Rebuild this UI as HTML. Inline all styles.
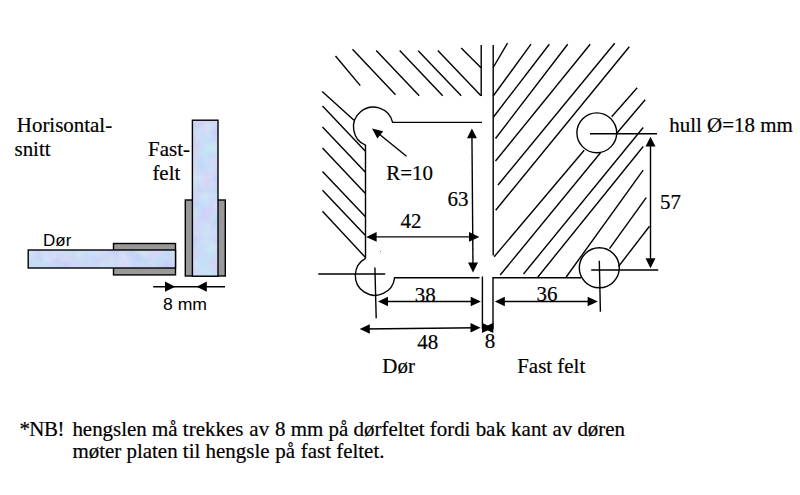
<!DOCTYPE html>
<html lang="no">
<head>
<meta charset="utf-8">
<title>Horisontalsnitt</title>
<style>
html,body{margin:0;padding:0;background:#fff;}
body{width:800px;height:495px;overflow:hidden;position:relative;}
svg{position:absolute;left:0;top:0;display:block;}
.s{font-family:"Liberation Serif",serif;font-size:20.95px;fill:#000;stroke:#000;stroke-width:0.2px;}
.a{font-family:"Liberation Sans",sans-serif;fill:#000;}
.ln line,.ln path,.ln circle{stroke:#000;stroke-width:1.4;fill:none;stroke-linecap:butt;}
.ar polygon{fill:#000;stroke:none;}
</style>
</head>
<body>
<svg width="800" height="495" viewBox="0 0 800 495">
<defs>
<filter id="tx" x="0" y="0" width="100%" height="100%" color-interpolation-filters="sRGB">
<feTurbulence type="fractalNoise" baseFrequency="0.07" numOctaves="2" seed="7" result="n"/>
<feColorMatrix in="n" type="matrix" values="0.17 0 0 0 0.715  0 0.15 0 0 0.78  0 0 0.05 0 0.94  0 0 0 0 1"/>
<feComposite in2="SourceGraphic" operator="in"/>
</filter>
</defs>
<rect width="800" height="495" fill="#ffffff"/>

<!-- left: horisontalsnitt -->
<g id="left">
<rect x="185.3" y="200" width="40" height="76" fill="#999999" stroke="#000" stroke-width="1.4"/>
<rect x="192.4" y="120.2" width="25.6" height="156" fill="#cfdaf7" filter="url(#tx)"/>
<rect x="192.4" y="120.2" width="25.6" height="156" fill="none" stroke="#000" stroke-width="1.4"/>
<rect x="113.5" y="243.5" width="62" height="31.4" fill="#999999" stroke="#000" stroke-width="1.4"/>
<rect x="28.2" y="250" width="147.3" height="18" fill="#cfdaf7" filter="url(#tx)"/>
<rect x="28.2" y="250" width="147.3" height="18" fill="none" stroke="#000" stroke-width="1.4"/>
<line x1="153.2" y1="286.7" x2="225" y2="286.7" stroke="#000" stroke-width="1.4"/>
<polygon points="175.2,286.7 165,281.6 165,291.8" fill="#000"/>
<polygon points="196.6,286.7 206.8,281.6 206.8,291.8" fill="#000"/>
</g>

<!-- right: hengsle -->
<g class="ln" id="hatchL">
<line x1="322.2" y1="91.5" x2="354" y2="120.2"/>
<line x1="335.5" y1="56" x2="360.3" y2="85.6"/>
<line x1="352.5" y1="49.2" x2="395.5" y2="94.8"/>
<line x1="376.2" y1="50.5" x2="419.2" y2="95.7"/>
<line x1="399.7" y1="50.5" x2="442.7" y2="95.7"/>
<line x1="418.2" y1="50.7" x2="461.2" y2="95.7"/>
<line x1="437.8" y1="50.5" x2="481" y2="95.7"/>
<line x1="461.2" y1="48" x2="481" y2="67.8"/>
<line x1="322.5" y1="106" x2="365.2" y2="151"/>
<line x1="322.5" y1="127" x2="365.2" y2="172"/>
<line x1="322.5" y1="148" x2="365.2" y2="193.2"/>
<line x1="322.5" y1="171.5" x2="365.2" y2="216.5"/>
<line x1="322.5" y1="190.2" x2="365.2" y2="235.2"/>
<line x1="322.5" y1="211.2" x2="365.2" y2="257.2"/>
</g>
<g class="ln" id="hatchR">
<line x1="493.2" y1="67.5" x2="507.5" y2="43.2"/>
<line x1="493.2" y1="96" x2="531" y2="44.2"/>
<line x1="493.5" y1="117" x2="549.3" y2="44.2"/>
<line x1="495.5" y1="138.5" x2="567.7" y2="44.2"/>
<line x1="495.5" y1="161" x2="590.2" y2="44.2"/>
<line x1="498" y1="185" x2="614.7" y2="43.2"/>
<line x1="495.7" y1="210.2" x2="629.3" y2="46.8"/>
<line x1="611.7" y1="116.8" x2="637.2" y2="87.7"/>
<line x1="494.2" y1="256.7" x2="584.2" y2="150.2"/>
<line x1="617" y1="133" x2="645.2" y2="99.7"/>
<line x1="500.2" y1="275" x2="600.5" y2="152.8"/>
<line x1="523.5" y1="274" x2="643.2" y2="127.5"/>
<line x1="537.7" y1="277.2" x2="643.2" y2="146.5"/>
<line x1="566.2" y1="277" x2="643.2" y2="170.2"/>
<line x1="609.5" y1="248.7" x2="646.2" y2="197.7"/>
<line x1="618.5" y1="266.5" x2="649.5" y2="226.2"/>
</g>
<g class="ln" id="outline">
<line x1="481.2" y1="45" x2="481.2" y2="96"/>
<line x1="493.2" y1="45" x2="493.2" y2="255.5"/>
<path d="M365.5,145.1 A19.8,19.8 0 1 1 392.6,122.4 L482,122.4"/>
<line x1="365.5" y1="144.8" x2="365.5" y2="258.5"/>
<path d="M365.5,258.3 A19.7,19.7 0 1 0 394.6,277.75 L479.5,277.75"/>
<line x1="482.4" y1="276.5" x2="482.4" y2="329"/>
<circle cx="380.5" cy="251.5" r="0.5" style="fill:#555;stroke:none"/>
<path d="M493,329 L493,277.75 L581,277.75"/>
<circle cx="596.8" cy="132.8" r="19.9"/>
<circle cx="599.3" cy="267.8" r="20"/>
<line x1="590" y1="133.7" x2="657" y2="133.7"/>
<line x1="591.2" y1="270" x2="658.2" y2="270"/>
<line x1="599.3" y1="260.7" x2="600.4" y2="311.7"/>
<line x1="318.3" y1="274" x2="385.2" y2="274"/>
<line x1="374.9" y1="267.5" x2="376.2" y2="318.3"/>
</g>
<g class="ln ar" id="dims">
<!-- R=10 -->
<line x1="406.5" y1="156.2" x2="376" y2="131.5"/>
<polygon points="372,128.5 383.2,131.2 377.4,138.6"/>
<!-- 63 -->
<line x1="471.9" y1="132" x2="473" y2="268"/>
<polygon points="471.9,128.5 467,138.2 476.9,138.2"/>
<polygon points="473,272.5 468,262.6 478,262.6"/>
<!-- 42 -->
<line x1="370" y1="236.9" x2="476" y2="236.9"/>
<polygon points="366.2,236.9 376.6,232.1 376.6,241.7"/>
<polygon points="479.4,236.9 469,232.1 469,241.7"/>
<!-- 38 -->
<line x1="381" y1="301.5" x2="477" y2="301.5"/>
<polygon points="378,301.5 388,296.7 388,306.3"/>
<polygon points="480.9,301.5 470.7,296.7 470.7,306.3"/>
<!-- 36 -->
<line x1="498" y1="301.5" x2="594" y2="301.5"/>
<polygon points="494.8,301.5 504.8,296.7 504.8,306.3"/>
<polygon points="597.9,301.5 587.6,296.7 587.6,306.3"/>
<!-- 48 -->
<line x1="363" y1="329" x2="477" y2="327.8"/>
<polygon points="359.7,329 369.8,324.2 369.8,333.8"/>
<polygon points="480.5,327.8 470.5,323 470.5,332.6"/>
<!-- 8 -->
<polygon points="492.8,327.9 482,322.8 482,333"/>
<polygon points="482.6,327.9 493.4,322.8 493.4,333"/>
<!-- 57 -->
<line x1="650.5" y1="140" x2="650.5" y2="265"/>
<polygon points="650.5,136.8 645.5,146.6 655.5,146.6"/>
<polygon points="650.5,268.2 645.5,258.2 655.5,258.2"/>
</g>

<g id="labels">
<text class="s" x="16.8" y="132.3">Horisontal-</text>
<text class="s" x="14.5" y="156">snitt</text>
<text class="s" x="148.1" y="155.5">Fast-</text>
<text class="s" x="152.4" y="180.4">felt</text>
<text class="a" x="43" y="245.9" font-size="17">Dør</text>
<text class="a" x="163" y="310.4" font-size="17" textLength="44" lengthAdjust="spacingAndGlyphs">8 mm</text>
<text class="s" x="386.3" y="180.2">R=10</text>
<text class="s" x="447.5" y="205.6">63</text>
<text class="s" x="400.5" y="227.8">42</text>
<text class="s" x="414.8" y="301.6">38</text>
<text class="s" x="536.5" y="300.6">36</text>
<text class="s" x="417.3" y="348.7">48</text>
<text class="s" x="484.7" y="348.3">8</text>
<text class="s" x="660.1" y="208.9">57</text>
<text class="s" x="669.3" y="132">hull Ø=18 mm</text>
<text class="s" x="382.3" y="373">Dør</text>
<text class="s" x="517.2" y="373.3">Fast felt</text>
<text class="s" x="19.4" y="435.6" letter-spacing="-0.5">*NB!</text>
<text class="s" x="72.4" y="435.6">hengslen må trekkes <tspan dx="0.8">av</tspan> <tspan dx="0.7">8</tspan> mm på dørfeltet fordi bak kant av døren</text>
<text class="s" x="72.4" y="458.3">møter platen til hengsle <tspan dx="0.5">på</tspan> <tspan dx="0.5">fast</tspan> feltet.</text>
</g>
</svg>
</body>
</html>
